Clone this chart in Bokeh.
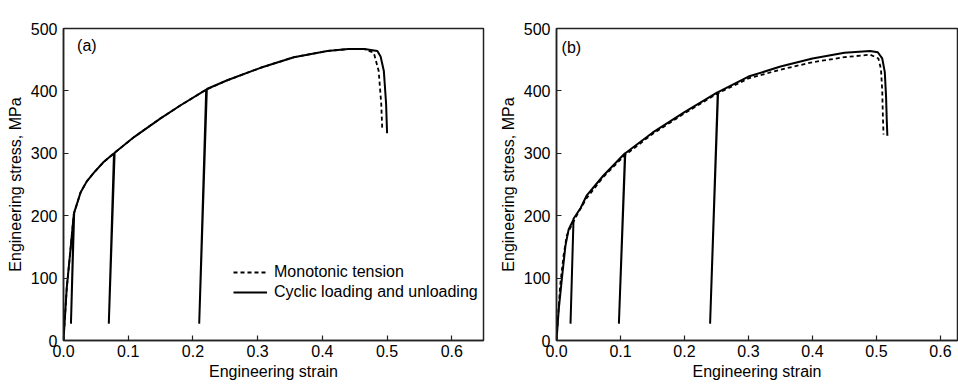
from bokeh.plotting import figure
from bokeh.layouts import row
from bokeh.models import Range1d, FixedTicker, Label, NumeralTickFormatter
from bokeh.embed import file_html
from bokeh.resources import INLINE

# ---------------- data ----------------
# Panel (a)
a_mono_strain = [0.0, 0.005, 0.010, 0.016, 0.0263, 0.036, 0.047, 0.062, 0.078, 0.109,
                 0.150, 0.181, 0.2205, 0.253, 0.3045, 0.356, 0.4076, 0.440, 0.465, 0.4795,
                 0.487, 0.491, 0.4925]
a_mono_stress = [0, 84, 137, 203, 237, 255, 269, 286, 300, 326,
                 356, 377, 402, 417, 437, 454, 464, 467, 467, 461,
                 432, 379, 340]

a_cyc_strain = [0.0, 0.005, 0.010, 0.016, 0.0115, 0.0165, 0.0263, 0.036, 0.047, 0.062,
                0.078, 0.070, 0.079, 0.109, 0.150, 0.181, 0.2205, 0.2097, 0.2215, 0.253,
                0.3045, 0.356, 0.4076, 0.440, 0.465, 0.485, 0.490, 0.495, 0.4985, 0.500]
a_cyc_stress = [0, 84, 137, 203, 27, 205, 237, 255, 269, 286,
                300, 27, 301, 326, 356, 377, 402, 27, 403, 417,
                437, 454, 464, 467, 467, 464, 455, 432, 379, 332]

# Panel (b)
b_mono_strain = [0.0, 0.0057, 0.011, 0.016, 0.0214, 0.034, 0.047, 0.073, 0.107, 0.150,
                 0.200, 0.250, 0.300, 0.350, 0.400, 0.450, 0.490, 0.503, 0.507, 0.509,
                 0.510, 0.511]
b_mono_stress = [0, 88, 136, 168, 180, 205, 228, 262, 297, 331,
                 364, 395, 420, 434, 446, 454, 458, 452, 435, 400,
                 360, 330]

b_cyc_strain = [0.0, 0.0036, 0.0089, 0.014, 0.019, 0.0266, 0.0219, 0.0266, 0.0375, 0.047,
                0.073, 0.107, 0.0975, 0.1075, 0.150, 0.200, 0.252, 0.240, 0.2525, 0.300,
                0.350, 0.400, 0.450, 0.490, 0.502, 0.509, 0.513, 0.515, 0.516, 0.517]
b_cyc_stress = [0, 51, 104, 152, 178, 194, 27, 195, 212, 232,
                264, 300, 27, 300, 333, 366, 398, 27, 398, 423,
                439, 452, 461, 464, 462, 452, 430, 390, 355, 328]

x_ticks = [0.0, 0.1, 0.2, 0.3, 0.4, 0.5, 0.6]
y_ticks = [0, 100, 200, 300, 400, 500]
legend_labels = ["Monotonic tension", "Cyclic loading and unloading"]
panel_tags = ["(a)", "(b)"]

FONT = "Liberation Sans"
INK = "#000000"
FS = "16px"


def make_panel(width, height, xmax, left, right, top, bottom):
    p = figure(width=width, height=height, output_backend="svg", toolbar_location=None,
               x_range=Range1d(0, xmax), y_range=Range1d(0, 500),
               min_border_left=left, min_border_right=right,
               min_border_top=top, min_border_bottom=bottom)
    p.xgrid.visible = False
    p.ygrid.visible = False
    p.outline_line_color = "#222222"
    p.outline_line_width = 1.5
    p.background_fill_color = "white"
    p.border_fill_color = "white"
    for ax in (p.xaxis[0], p.yaxis[0]):
        ax.axis_line_color = "#222222"
        ax.axis_line_width = 1.5
        ax.major_tick_in = 5
        ax.major_tick_out = 0
        ax.major_tick_line_color = "#222222"
        ax.major_tick_line_width = 1.2
        ax.minor_tick_line_color = None
        ax.major_label_text_font = FONT
        ax.major_label_text_font_size = FS
        ax.major_label_text_color = INK
        ax.axis_label_text_font = FONT
        ax.axis_label_text_font_size = FS
        ax.axis_label_text_font_style = "normal"
        ax.axis_label_text_color = INK
    p.xaxis.major_label_standoff = 4
    p.xaxis.axis_label_standoff = 3
    p.yaxis.major_label_standoff = 6
    p.yaxis.axis_label_standoff = 4
    p.xaxis.ticker = FixedTicker(ticks=x_ticks)
    p.xaxis.formatter = NumeralTickFormatter(format="0.0")
    p.yaxis.ticker = FixedTicker(ticks=y_ticks)
    p.xaxis.axis_label = "Engineering strain"
    p.yaxis.axis_label = "Engineering stress, MPa"
    return p


p1 = make_panel(490, 385, 0.649, 63, 7, 24, 45)
p1.line(a_mono_strain, a_mono_stress, line_color=INK, line_width=1.8, line_dash="4 3",
        legend_label=legend_labels[0])
p1.line(a_cyc_strain, a_cyc_stress, line_color=INK, line_width=2,
        legend_label=legend_labels[1])
p1.add_layout(Label(x=0.021, y=473, text=panel_tags[0], text_font=FONT, text_font_size=FS,
                    text_color=INK, text_baseline="middle"))
lg = p1.legend[0]
lg.location = (170, 38)
lg.border_line_alpha = 0
lg.background_fill_alpha = 0
lg.padding = 0
lg.margin = 0
lg.spacing = 0
lg.glyph_width = 34
lg.glyph_height = 20
lg.label_height = 20
lg.label_standoff = 7
lg.label_text_font = FONT
lg.label_text_font_size = FS
lg.label_text_color = INK

p2 = make_panel(468, 385, 0.6266, 66, 1, 28, 43)
p2.line(b_mono_strain, b_mono_stress, line_color=INK, line_width=1.8, line_dash="4 3")
p2.line(b_cyc_strain, b_cyc_stress, line_color=INK, line_width=2)
p2.add_layout(Label(x=0.008, y=470, text=panel_tags[1], text_font=FONT, text_font_size=FS,
                    text_color=INK, text_baseline="middle"))

layout = row(p1, p2)
open("out.html", "w").write(file_html(layout, INLINE))
